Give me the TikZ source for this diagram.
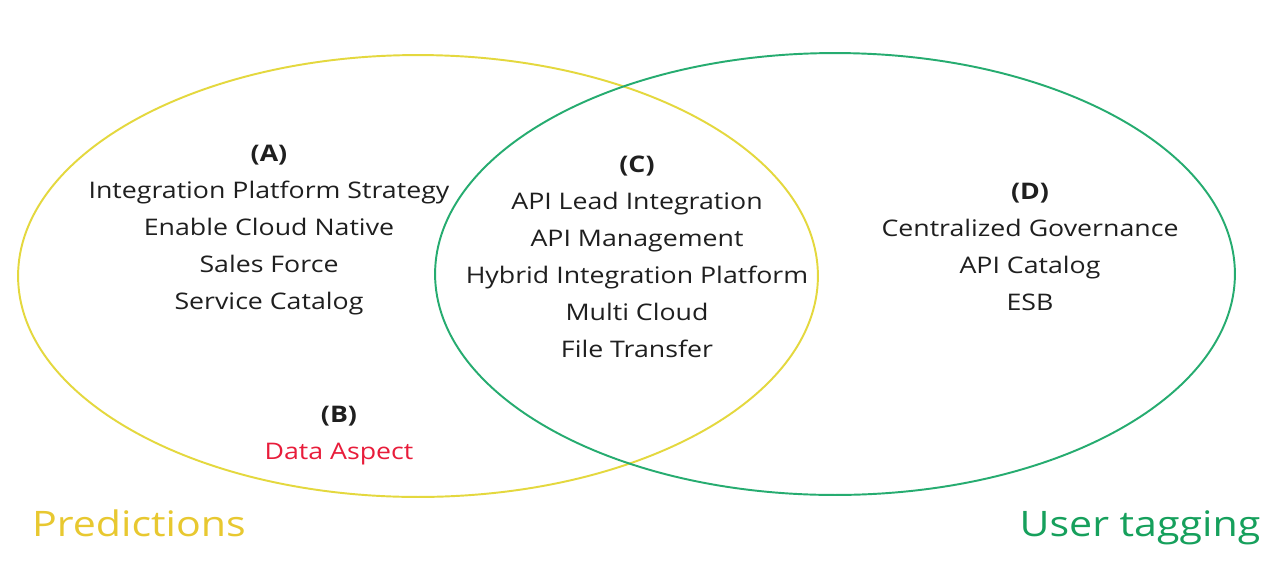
\documentclass[tikz,border=0pt]{standalone}
\usepackage{fontspec}
\setmainfont{Open Sans}[FakeStretch=1.17]
\usetikzlibrary{shapes.geometric}
\definecolor{predyellow}{RGB}{228,216,62}
\definecolor{predtext}{RGB}{232,200,48}
\definecolor{taggreen}{RGB}{38,172,112}
\definecolor{tagtext}{RGB}{22,160,92}
\definecolor{aspectred}{RGB}{232,28,58}
\tikzset{
  setring/.style={draw,ellipse,line width=1.1pt,minimum width=16cm,minimum height=8.84cm,inner sep=0pt},
  itemlist/.style={align=center,text=black!88,font=\fontsize{13}{21}\selectfont},
  setname/.style={anchor=base,font=\fontsize{20}{24}\selectfont}
}
\begin{document}
\begin{tikzpicture}[x=0.02cm,y=-0.02cm]
\useasboundingbox[fill=white] (0,0) rectangle (1271,579);

\node[setring,predyellow] (pred) at (418,276) {};
\node[setring,taggreen] (tag) at (835,274) {};

\node[itemlist] (setA) at (269,230) {\textbf{(A)}\\Integration Platform Strategy\\Enable Cloud Native\\Sales Force\\Service Catalog};
\node[itemlist] (setB) at (339,436) {\textbf{(B)}\\\textcolor{aspectred}{Data Aspect}};
\node[itemlist] (setC) at (637,257) {\textbf{(C)}\\API Lead Integration\\API Management\\Hybrid Integration Platform\\Multi Cloud\\File Transfer};
\node[itemlist] (setD) at (1030,247) {\textbf{(D)}\\Centralized Governance\\API Catalog\\ESB};

\node[setname,text=predtext] (predname) at (139,536) {Predictions};
\node[setname,text=tagtext] (tagname) at (1140,536) {User tagging};
\end{tikzpicture}
\end{document}
